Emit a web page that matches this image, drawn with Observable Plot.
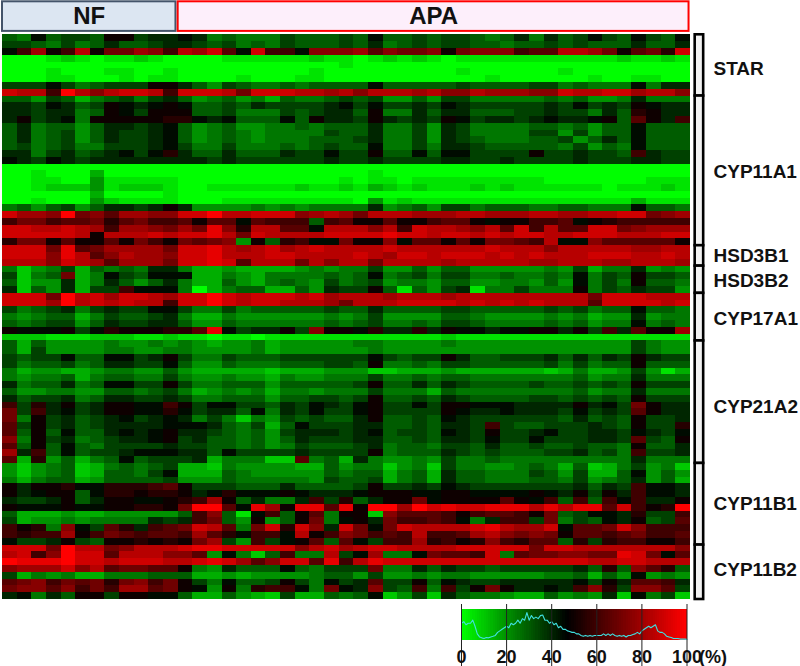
<!DOCTYPE html>
<html>
<head>
<meta charset="utf-8">
<script src="https://cdn.jsdelivr.net/npm/d3@7"></script>
<script src="https://cdn.jsdelivr.net/npm/@observablehq/plot@0.6"></script>
<style>
html,body{margin:0;padding:0;background:#fff}
svg{display:block}
</style>
</head>
<body>
<div id="chart"></div>
<script>
// Each row reads left to right over 47 samples. Letters code the percent value in 5% steps: a=0, b=5 ... u=100.
const STAR = [
"gfjghhgkkhii jifgfffhgggh gjgghghhgfgi fighjhgjhgj",
"hhgfhfgigghi ihghfgfhgggh gifghghhggfg ghghgggiggi",
"jmqkmrkooqpm rqsnjsmmjppp qnpoopkopppm nnrrqoknols",
"aaabcbabbcba aaabbbbbbcbb abcbcbabbbbb bbbbbbcbbcb",
"aaaaaaaaaaaa aaaaaaaaaaab aaaaaaaaaaaa aaaaaaaaaaa",
"aaabaaabbaab aaaaaaaaabaa aaaaaaabaaaa aabaaaaaaaa",
"aaabbaaababb aaaabaaabbaa aaaaaaaaabaa aaaabaabbaa",
"hhhjhfghhhkk igehgffgfggg gjggggghgggg hhfgfffjfii",
"srrmurprssrm sssrosssrrqr prrrqrpprqqq ppsrrssqrrp"];
const CYP11A1 = [
"ggehgdfghfhi gefgefdgffgh gheegehhffff fgfgeefifff",
"iihjighkjijk jgghgihhhhij hjhhihjihhhh hihjhihkjii",
"iihiifgkjhkk kgghfffhghii gkffigiigggh hihhfiglkii",
"ikhijfkkkkkl ljijgggjgkii hkihihkjhiih ijiijkgnkim",
"gifggegiihij gefgeeffgfgg giffheihffff ggfgeggjggg",
"gifghegihhij gefgfeffffhg giffheihffff hheheggjggg",
"gifghegihhij gefgfefffggg hiffheihgfff gghegigjggg",
"ghfghffhhhij hffhfffgfghg gjffhfiihggg ggfhegfjggg",
"iifhighijhjl iggigggihhjh hkggjgjjhhhh khhihhgmihh",
"jihjihiiiiii iihihhhhhhih hihhhhiihhih hhhihhhiihh",
"aaaaaaaaaaaa aaaaaaaaaaaa aaaaaaaaaaaa aaaaaaaaaaa",
"aabaaadaaaaa aaaaaaaaaaaa abaaaaaaaaaa aaaaaaaaaaa",
"aabbaaebbbbb aaaaaaaaaaab abbabbbbbbbb baaaaaaabbb",
"aabcccebcccb aabbbbbbcbbc bdcbcbbbcbcb bbbbbabbbcb",
"aaaaaadaaaab aaaaaaaaaaaa aaaaaaaaaaaa aaaaaaaaaaa",
"aabaaaecbbbb aaabbbbbbbbb aebcbbbbbbbb bbbbbbbdbbb",
"fgeghegiihik ieeeefefefff fiefgehhfggg ffggfffjggf",
"sqqpuopnqqpp ssurrssspqrq orrrqqqrrqqq rrqqrrssopq",
"moomnnolnomm nknnjnmmmgmn kknkkmnnkjkk mmnjklmmmmm",
"ssrrsrqmqqpo qotplrrnnjrr rprmsrrqprns mrnnssopqqq",
"sssssrkrrrsr sstrosrrrrss sstssrssrsrs srrsssrrrss",
"looknkknkomk onopekglmjjo kkpjnnknkoon mrjjpnnnnnk"];
const HSD3B1 = [
"sssotnoqqqqo sstrqrsqrsrr rrsrrrrrrsrr rprrrrrqqrr",
"sssptrnprqqp sstrrrssrrrr srqssrsssrsr srrrsssrrsr",
"rrrpsrqnqqqo sstsnrrrorpr rorrrrqrrrrr qqrrrqqrrrq"];
const HSD3B2 = [
"fcefhdgfgfii fddeddddefef fheegeggeeee efehdffiefe",
"hcfgodfjhgjj jddfedffffgf gjfghfhhffgf fgfjfhgkhhg",
"gceeidfigegi fddgedfgfehf gheffeggeeff egejfhfkggf",
"icgeidhhmjjj fadfggddgeih hkgbgehibffh fffkfhgihhe"];
const CYP17A1 = [
"sssoursqssrq ssusrsssrsqr rrqrrrqrrrrr rrrrosssrrr",
"sssqursrsrrm ssusrssrrrqo rrrssssrsrsr srrrnssssrs",
"hfghifhihhjj hffhfggggghg gigggghhgggg ghghfggjggf",
"fefggdfhgghi fddfeeeeeefe fheeeeggfeee efefdeeieff",
"gfghhegihhii geegffffffgf ghffgfhhgfff fgfgeffjfgf",
"kjjjkhjlkkkl lntjhiikhpkk jliilikjjijj kkikhminkkq",
"cccbbbcccbbc bbabbabbbbbb bbbbbbcbbbbb bbbbbbbbbbb"];
const CYP21A2 = [
"gdgeeeefeefe fedeefdeeeee ffeeeefeeeee eeeeeeehfee",
"gdheeeeffeef feeeefdeeeee efeeeeeeeeee eeeeeeehfee",
"hghhjggjjhik hffhggghhhhh hjhghhkigghh higigihkihh",
"hfgghfgiihhj geegfffggghh gkffgfhhgggg ghfhfggkggg",
"fdeeddeffeeg edddddcdddee eccdddeddddd dcdfddehebd",
"feffgdfggffh feefeedfeeff fhffgfggffff fffgeffifff",
"ifggifgjjhhk hffgggeggggg hkggigihgggg hgghghgkhhh",
"geeffeeggfgh fdefefdffeff fhfffdgfffff fffgeffifff",
"ighhifgiihhi hffgggegghhg hkgghgihgggg hhghghgkhhh",
"mhlikhikkjjm khjjhhgihjih jkhhjhkkjjji iiikijhokii",
"ohmijhikkjjl jhiigjfihjhh jkhhhhkjiiji iihjhihnkii",
"ofkhighijhij ifhfcfehghgg ikgghgjihhhh hhgighgkhhi",
"nhkhighiiiij jjigfhdgjhhh iigghgiihmhg ghhhihgkhhl",
"ngkgjggijijk iihgfgehiiih ijghhgjihkhh ijhhiihjihj",
"pfkhifghiijk higgfgegihhh iigghgiihjhh jhhhiihnhgk",
"ngkgjgfhhhhi hhggfgefhggg hifggfhhgigg hgghggfkggi",
"qimgjghhijjj iigjhhhhihhh hkfgggihghgg ghhighfmhhi",
"ndlegdfgjghh hidfffccnfgd ifeefehffgff fffffffifff"];
const CYP11B1 = [
"ecefgcdfgfgh ddcfeeeeddge ffcefchffeef gfdgcdfhefc",
"ecefgcdggfhj dddgfeeeeegf ggdfgdiggfff hgehddgjege",
"fdfggdeggggh eeegfffffehg ghdfgdiggfff ggfhefgiegd",
"kikkljjlllmn khhhgggigggg hkhhihjihhhh hhhigihmjji",
"kijkkgjllkll kijljjjkjiii jkkkjjkkjjjj kjikhkimjji",
"ihhikgikkjjk lmqkgiffimhl gikkojkkkknk jmgmgmjmiik",
"kjjjkjjkkllk ouunjtqkttnt kuuqustssttt rtrttnsmklu",
"gdddeddeeeee gmpgbjmgknfk kcpnnnmkmnnm koghjjilhhm",
"hdeefeffffih imogekegkofj kiommnmjfimm hofhgjikghn",
"mklfpjhnlimn osrnfoslspis ojosrrrrstrq qsjnnospmmm",
"mlmmqkmonmnn mqnljmmjrkmp omnmrmmnqrpo poknnmnommn",
"jhhikhgkklkl koqhemhjkngn jhmmqlmklpml nnglhlmmkkm"];
const CYP11B2 = [
"sssourroprrr sttsssssprsq rssrrrrsssss ossrrrrrrrp",
"rsmpussnrrrp pnejfcgmffrh jqffjonnmsfn ooppootsojn",
"utttussrsssr rstsqnpssntm rtssssssssss ssssrrssrrr",
"pqqqsprnoonn kfeigggjgfhh hoffigihhghh hhhiglgpnlg",
"hdfefddfffgg gddedeeeefgg eheefeffeeee effgdgejefe",
"nopmonolopmo khfjgghkhfjh inhhkgjihhii iiijhkinnmi",
"oppnpmomqqno kjekflmmjfoj iphgmfmhkoki ijimplhppnh",
"ijfigkkhkkjj gddgedchddgf gjcehcigffed dgefeicjfhc"];

const geneNames = ["STAR","CYP11A1","HSD3B1","HSD3B2","CYP17A1","CYP21A2","CYP11B1","CYP11B2"];
const geneRows = [STAR,CYP11A1,HSD3B1,HSD3B2,CYP17A1,CYP21A2,CYP11B1,CYP11B2];
const geneLabelRows = [5.0,20.2,32.5,36.2,41.7,54.7,69,78.7];

const groupNames = ["NF","APA"];
const groupFrom = [0,12];
const groupTo = [11.85,46.9];
const groupFills = ["#dce6f2","#fdeffb"];
const groupStrokes = ["#44546a","#ff0000"];

const legendTicks = [0,20,40,60,80,100];
// Histogram over the legend: share of cells (relative height) per percent value 0..100
const histogram = [55,60,50,55,55,65,45,20,10,7,5,8,7,10,12,15,25,30,35,40,45,40,55,50,55,65,55,70,65,90,65,80,70,75,70,80,82,65,65,55,60,50,55,40,45,35,35,30,28,25,25,20,20,15,12,15,12,15,12,15,15,15,15,20,15,20,15,20,15,12,15,12,15,10,15,15,18,20,25,20,30,35,40,45,40,45,50,30,25,25,20,12,10,8,5,5,5,3,3,3,2];

const colorScale = {type:"linear",domain:[0,47,100],range:["#00ff00","#000000","#ff0000"],interpolate:"rgb"};
const font = "'Liberation Sans', Arial, sans-serif";

// build tables from the arrays
const rows = geneRows.flat().map(s => s.replace(/ /g,""));
const cells = rows.flatMap((s,r) => Array.from(s,(ch,c) => ({c,r,v:(ch.charCodeAt(0)-97)*5})));
let acc = 0;
const brackets = geneRows.map((g,i) => { const b = {from:acc,to:acc+g.length,name:geneNames[i],label:geneLabelRows[i]}; acc += g.length; return b; });
const groups = groupNames.map((n,i) => ({name:n,from:groupFrom[i],to:groupTo[i],fill:groupFills[i],stroke:groupStrokes[i]}));

const main = Plot.plot({
  width:800,height:604,margin:0,
  style:{background:"#fff",fontFamily:font},
  x:{domain:[0,47],range:[2,690],axis:null},
  y:{domain:[0,83],range:[34.3,599],axis:null},
  color:colorScale,
  marks:[
    Plot.rect(cells,{x1:"c",x2:d=>d.c+1,y1:"r",y2:d=>d.r+1,fill:"v",shapeRendering:"crispEdges"}),
    Plot.rect(groups,{x1:"from",x2:"to",y1:()=>-4.85,y2:()=>-0.5,fill:d=>d.fill,stroke:d=>d.stroke,strokeWidth:2}),
    Plot.text(groups,{x:d=>(d.from+d.to)/2,y:()=>-2.65,text:"name",fontSize:24,fontWeight:"bold",fill:"#111"}),
    Plot.rect(brackets,{x1:()=>47.32,x2:()=>47.9,y1:"from",y2:"to",fill:"#f2f2f2",stroke:"#000",strokeWidth:2.6}),
    Plot.text(brackets,{x:()=>48.57,y:"label",text:"name",textAnchor:"start",fontSize:19,fontWeight:"bold",fill:"#111"})
  ]
});

const steps = d3.range(0,100);
const legend = Plot.plot({
  width:800,height:62,margin:0,
  style:{background:"#fff",fontFamily:font},
  x:{domain:[0,100],range:[461,686.5],axis:null},
  y:{domain:[0,100],range:[35.5,5],axis:null},
  color:colorScale,
  marks:[
    Plot.rect(steps,{x1:d=>d,x2:d=>d+1,y1:()=>0,y2:()=>100,fill:d=>d+0.5,shapeRendering:"crispEdges"}),
    Plot.lineY(histogram,{x:(d,i)=>i,y:d=>d,stroke:"#3fe0e0",strokeWidth:1.1}),
    Plot.tickX(legendTicks,{x:d=>d,y1:()=>0,y2:()=>-7,stroke:"#222",strokeWidth:1}),
    Plot.text(legendTicks,{x:d=>d,y:()=>-55,text:d=>String(d),fontSize:18,fontWeight:"bold",fill:"#111"}),
    Plot.text(["(%)"],{x:()=>111.5,y:()=>-55,text:d=>d,fontSize:18,fontWeight:"bold",fill:"#111"})
  ]
});

document.getElementById("chart").append(main,legend);
</script>
</body>
</html>
